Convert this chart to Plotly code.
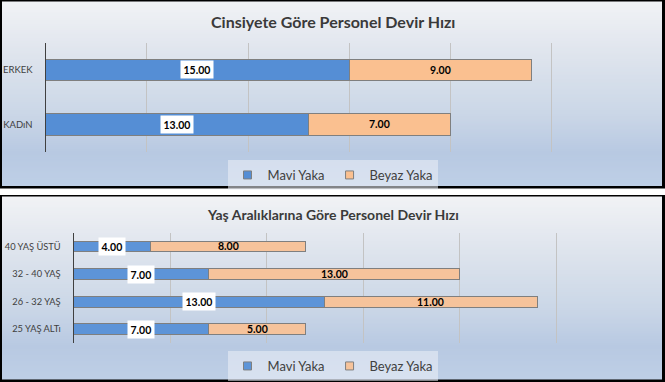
import plotly.graph_objects as go

# ---------------- data ----------------
gender_categories = ["ERKEK", "KADıN"]
gender_mavi = [15, 13]
gender_beyaz = [9, 7]

age_categories = ["40 YAŞ ÜSTÜ", "32 - 40 YAŞ", "26 - 32 YAŞ", "25 YAŞ ALTı"]
age_mavi = [4, 7, 13, 7]
age_beyaz = [8, 13, 11, 5]

series_names = ["Mavi Yaka", "Beyaz Yaka"]
title_top = "Cinsiyete Göre Personel Devir Hızı"
title_bottom = "Yaş Aralıklarına Göre Personel Devir Hızı"

W, H = 665, 382
FONT = "Lato"
TXT = "#404040"
EDGE = "#7f7f7f"

def px(x):
    return x / W

def py(y):
    return 1 - y / H

fig = go.Figure()

def add_panel(cats, blue, orange, xa, ya, leg, cblue, corange, bw):
    fig.add_trace(go.Bar(y=cats, x=blue, orientation="h", name=series_names[0],
                         marker=dict(color=cblue, line=dict(color=EDGE, width=1)),
                         width=bw, xaxis=xa, yaxis=ya, showlegend=False, hoverinfo="skip"))
    fig.add_trace(go.Bar(y=cats, x=orange, orientation="h", name=series_names[1],
                         marker=dict(color=corange, line=dict(color=EDGE, width=1)),
                         width=bw, xaxis=xa, yaxis=ya, showlegend=False, hoverinfo="skip"))
    # legend entries (small square keys)
    for nm, col in zip(series_names, [cblue, corange]):
        fig.add_trace(go.Scatter(x=[None], y=[None], mode="markers", name=nm,
                                 marker=dict(symbol="square", size=8, color=col,
                                             line=dict(color=EDGE, width=1)),
                                 xaxis=xa, yaxis=ya, legend=leg, showlegend=True,
                                 hoverinfo="skip"))

add_panel(gender_categories, gender_mavi, gender_beyaz, "x", "y", "legend", "#558ED5", "#FAC090", 0.4)
add_panel(age_categories, age_mavi, age_beyaz, "x2", "y2", "legend2", "#5D94D8", "#F6C39B", 0.39)

# ---------------- background panels (gradient) ----------------
shapes = []
stops = [(0.0, (241, 242, 245)), (0.3, (222, 228, 237)), (0.6, (203, 215, 231)),
         (0.82, (184, 201, 226)), (1.0, (190, 207, 230))]

def grad(t):
    for (t0, c0), (t1, c1) in zip(stops[:-1], stops[1:]):
        if t <= t1:
            f = (t - t0) / (t1 - t0) if t1 > t0 else 0
            return "rgb(%d,%d,%d)" % tuple(round(a + (b - a) * f) for a, b in zip(c0, c1))
    return "rgb(%d,%d,%d)" % stops[-1][1]

def panel(y0, y1):
    shapes.append(dict(type="rect", xref="paper", yref="paper", x0=px(0), x1=px(W),
                       y0=py(y1), y1=py(y0), fillcolor="black", line=dict(width=0), layer="below"))
    iy0, iy1 = y0 + 1.5, y1 - 2.5
    n = 90
    step = (iy1 - iy0) / n
    for i in range(n):
        a = iy0 + i * step
        b = a + step + 1.5
        shapes.append(dict(type="rect", xref="paper", yref="paper", x0=px(2), x1=px(662),
                           y0=py(min(b, iy1)), y1=py(a), fillcolor=grad((i + 0.5) / n),
                           line=dict(width=0), layer="below"))

panel(0, 188.5)
panel(195, 382)

# ---------------- annotations ----------------
ann = []
ann.append(dict(text="<b>" + title_top + "</b>", xref="paper", yref="paper", x=0.5, y=py(21),
                yanchor="middle", showarrow=False,
                font=dict(family=FONT, size=16, color="#3a3a3a")))
ann.append(dict(text="<b>" + title_bottom + "</b>", xref="paper", yref="paper", x=0.5, y=py(214),
                yanchor="middle", showarrow=False,
                font=dict(family=FONT, size=14, color="#3a3a3a")))

def labels(cats, blue, orange, xr, yr, size):
    for c, b, o in zip(cats, blue, orange):
        ann.append(dict(text="<b>%.2f</b>" % b, x=b / 2, y=c, xref=xr, yref=yr, showarrow=False,
                        bgcolor="white", borderpad=2.5,
                        font=dict(family=FONT, size=size, color="black")))
        ann.append(dict(text="<b>%.2f</b>" % o, x=b + o / 2, y=c, xref=xr, yref=yr, showarrow=False,
                        font=dict(family=FONT, size=size, color="black")))

labels(gender_categories, gender_mavi, gender_beyaz, "x", "y", 10.5)
labels(age_categories, age_mavi, age_beyaz, "x2", "y2", 10.5)

xcommon = dict(showticklabels=False, showgrid=True, gridcolor="#c3c3c3", gridwidth=1,
               zeroline=False, dtick=5, tick0=0, ticks="", fixedrange=True, range=[0, 30])

def ycommon(size):
    return dict(showline=True, linecolor="#404040", linewidth=1, showgrid=False, ticks="",
                autorange="reversed", ticklabelstandoff=10,
                tickfont=dict(family=FONT, size=size, color=TXT), fixedrange=True)

legcommon = dict(orientation="h", xanchor="center", x=0.5, yanchor="top",
                 bgcolor="rgba(236,241,248,0.55)", borderwidth=0,
                 font=dict(family=FONT, size=13, color=TXT), traceorder="normal",
                 itemwidth=30)

fig.update_layout(
    width=W, height=H, margin=dict(l=0, r=0, t=0, b=0),
    paper_bgcolor="white", plot_bgcolor="rgba(0,0,0,0)",
    barmode="stack", showlegend=True,
    xaxis=dict(domain=[px(45.5), px(653)], anchor="y", **xcommon),
    yaxis=dict(domain=[py(151.5), py(42.8)], anchor="x", **ycommon(9.5)),
    xaxis2=dict(domain=[px(73.5), px(653)], anchor="y2", **xcommon),
    yaxis2=dict(domain=[py(343), py(232.7)], anchor="x2", **ycommon(9.3)),
    legend=dict(y=py(160), **legcommon),
    legend2=dict(y=py(351), **legcommon),
    shapes=shapes, annotations=ann,
)

fig.write_html("out.html", config={"displayModeBar": False},
               post_script="document.body.style.margin='0';document.body.style.overflow='hidden';")
